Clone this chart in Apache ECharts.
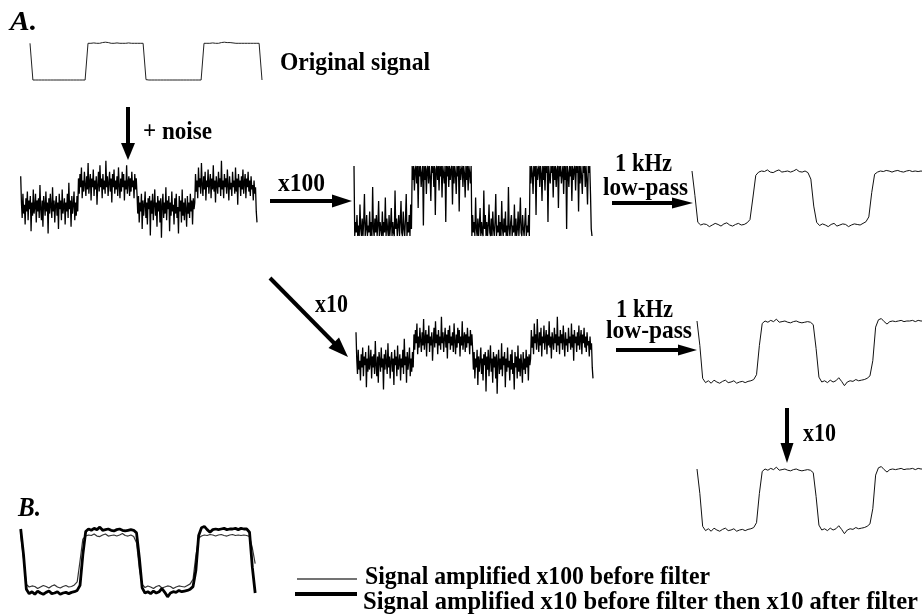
<!DOCTYPE html>
<html><head><meta charset="utf-8">
<script src="https://cdn.jsdelivr.net/npm/echarts@6/dist/echarts.min.js"></script>
<style>html,body{margin:0;padding:0;background:#fff}#c{width:923px;height:614px}</style>
</head><body><div id="c"></div>
<script>
// ---- data (normalised: low level = 0, high level = 1) ----
const originalSignal = [1.0,
 0,0,0,0,0,0,0,0,0,0,0,0,0,0,0,0,0,0,0,
 1.0,1.0,1.01,1.0,1.0,1.02,1.03,1.02,1.0,1.0,1.01,1.0,1.0,1.0,1.01,1.0,1.0,1.0,1.0,1.0,
 0.01,0,0,0,0,0,0,0,0,0,0,0,0,0,0,0,0,0,0,0,
 1.0,1.0,1.0,1.01,1.0,1.0,1.02,1.03,1.02,1.02,1.01,1.0,1.0,1.0,1.0,1.0,1.0,1.0,1.0,1.0,
 0.0];

// original + noise (also shown after x10 gain, same display scale)
const noisySignal = [
 1.4,0.2,-0.5,0.6,-0.3,0.1,-0.8,0.4,-0.2,0.7,
 -0.6,0.3,-0.1,0.5,-1.1,0.2,-0.4,0.8,-0.3,0.0,
 0.6,-0.7,0.3,-0.2,0.4,-0.5,1.0,-0.1,-0.6,0.3,
 -0.9,0.5,0.1,-0.4,0.7,-0.2,0.2,-1.2,0.4,-0.3,
 0.6,0.0,-0.5,0.9,-0.2,0.3,-0.7,0.1,0.5,-0.4,
 0.2,-1.0,0.6,-0.1,0.3,-0.6,0.8,-0.3,0.0,0.4,
 -0.8,0.2,-0.2,0.6,-0.5,1.1,-0.1,0.3,-0.9,0.5,
 -0.3,0.1,0.7,-0.6,0.2,-0.4,0.5,-0.2,
 1.3,0.6,1.5,0.9,1.8,0.4,1.2,0.7,1.6,1.0,
 0.5,1.4,0.8,2.0,0.6,1.1,1.5,0.3,1.3,0.9,
 1.7,0.5,1.2,0.8,1.4,0.1,1.0,1.6,0.7,1.9,
 0.9,1.3,0.4,1.5,0.8,1.2,0.6,2.1,0.9,1.4,
 0.5,1.1,1.6,0.7,1.3,0.2,1.5,0.9,1.7,0.6,
 1.2,0.8,1.4,0.5,1.8,1.0,0.4,1.3,0.7,1.6,
 0.9,1.5,0.3,1.2,0.8,1.9,0.6,1.1,1.4,0.5,
 1.3,0.7,1.6,0.9,1.2,0.4,1.5,0.8,1.3,0.6,
 -0.3,0.5,-0.7,0.2,-0.2,0.6,-1.0,0.3,-0.4,0.1,
 0.7,-0.5,0.2,-0.8,0.4,-0.1,0.5,-1.3,0.3,-0.3,
 0.6,-0.6,0.1,0.8,-0.4,0.2,-0.9,0.5,-0.2,0.3,
 -0.7,0.4,-1.4,0.1,0.6,-0.5,0.2,-0.3,0.9,-0.6,
 0.3,-0.1,0.5,-1.1,0.2,-0.4,0.7,-0.2,0.1,-0.8,
 0.4,-0.3,0.6,-0.5,0.0,-1.2,0.5,-0.2,0.3,-0.7,
 0.8,-0.4,0.2,-0.6,0.4,-0.1,-0.9,0.5,-0.3,0.2,
 -0.5,0.6,-0.2,0.3,-0.8,0.4,-0.1,0.2,
 1.5,0.7,1.2,0.4,1.8,0.9,1.3,0.6,2.0,1.0,
 0.5,1.4,0.8,1.6,0.3,1.2,0.9,1.7,0.6,1.1,
 1.5,0.4,1.3,0.8,1.9,0.7,1.2,0.2,1.4,1.0,
 0.6,1.6,0.9,1.3,0.5,2.1,0.8,1.2,0.4,1.5,
 0.9,1.3,0.6,1.7,1.0,0.3,1.4,0.8,1.1,0.5,
 1.6,0.9,1.2,0.6,1.8,0.7,1.3,0.1,1.5,0.9,
 1.2,0.5,1.4,0.8,1.7,0.6,1.1,1.5,0.4,1.3,
 0.9,1.6,0.7,1.2,0.5,1.4,0.8,1.0,0.3,1.2,
 0.6,0.9,-0.2,-0.7];

// x100 amplified: saturated between bottom (0) and top (1)
const amplified100 = [
 1.0,0.0,0.2,0.05,0.3,0.0,0.15,0.0,0.45,0.1,
 0.0,0.25,0.0,0.2,0.6,0.0,0.1,0.3,0.0,0.15,
 0.05,0.35,0.0,0.2,0.0,0.7,0.1,0.0,0.25,0.05,
 0.3,0.0,0.15,0.5,0.0,0.2,0.1,0.0,0.35,0.0,
 0.2,0.05,0.55,0.0,0.25,0.1,0.0,0.3,0.0,0.15,
 0.4,0.0,0.2,0.05,0.0,0.65,0.1,0.25,0.0,0.15,
 0.3,0.0,0.2,0.5,0.05,0.0,0.35,0.1,0.0,0.25,
 0.6,0.0,0.2,0.05,0.3,0.0,0.45,0.1,
 1.0,0.8,1.0,0.65,0.95,1.0,0.75,1.0,0.4,1.0,
 0.85,1.0,0.7,0.9,1.0,0.15,1.0,0.8,1.0,0.6,
 0.95,1.0,0.75,1.0,0.85,0.5,1.0,0.9,1.0,0.7,
 1.0,0.3,0.95,1.0,0.8,1.0,0.65,1.0,0.85,1.0,
 0.55,1.0,0.9,0.75,1.0,0.2,1.0,0.85,1.0,0.7,
 1.0,0.8,0.95,1.0,0.45,1.0,0.75,1.0,0.9,0.6,
 1.0,0.85,1.0,0.35,1.0,0.8,0.95,1.0,0.7,1.0,
 0.9,0.55,1.0,0.8,1.0,0.65,1.0,0.9,0.75,1.0,
 0.0,0.3,0.05,0.2,0.0,0.55,0.1,0.0,0.25,0.0,
 0.15,0.4,0.0,0.2,0.05,0.0,0.65,0.1,0.3,0.0,
 0.2,0.0,0.15,0.45,0.05,0.0,0.25,0.0,0.35,0.1,
 0.0,0.2,0.6,0.0,0.15,0.05,0.3,0.0,0.2,0.0,
 0.5,0.1,0.0,0.25,0.05,0.35,0.0,0.15,0.0,0.7,
 0.1,0.0,0.2,0.3,0.0,0.15,0.05,0.45,0.0,0.25,
 0.0,0.1,0.35,0.0,0.2,0.55,0.05,0.0,0.3,0.1,
 0.0,0.2,0.4,0.0,0.15,0.05,0.3,0.0,
 1.0,0.75,1.0,0.9,0.6,1.0,0.85,1.0,0.3,1.0,
 0.8,0.95,1.0,0.7,1.0,0.9,0.5,1.0,0.8,1.0,
 0.65,1.0,0.9,1.0,0.2,1.0,0.85,0.75,1.0,0.9,
 1.0,0.55,1.0,0.8,1.0,0.7,0.95,1.0,0.4,1.0,
 0.85,1.0,0.75,0.9,1.0,0.6,1.0,0.8,1.0,0.1,
 1.0,0.9,0.7,1.0,0.85,1.0,0.5,1.0,0.8,0.95,
 1.0,0.65,1.0,0.9,1.0,0.35,1.0,0.75,1.0,0.85,
 0.6,1.0,0.9,1.0,0.7,1.0,0.8,0.45,1.0,0.9,
 1.0,0.6,0.1,0.0];

// x100 then 1 kHz low-pass
const filteredX100 = [
 1.00,0.55,0.05,0.00,0.02,0.01,-0.03,0.00,0.03,0.01,
 -0.02,0.02,0.04,0.00,-0.02,0.01,0.03,0.00,0.01,0.04,
 0.10,0.50,0.92,0.98,1.00,0.99,1.02,0.98,0.97,1.00,
 1.02,0.98,0.99,1.00,0.98,1.00,1.03,0.99,0.98,1.00,
 0.97,0.85,0.35,0.05,-0.01,0.02,0.00,-0.03,0.01,0.03,
 -0.02,0.00,0.02,0.01,-0.03,0.00,0.02,0.01,0.00,0.03,
 0.06,0.15,0.60,0.94,0.98,1.00,0.99,1.01,1.00,0.98,
 1.00,1.01,0.99,0.98,1.00,1.01,0.99,1.00,0.99,1.00,
 0.99,0.97,0.75,0.45];

// x10 then 1 kHz low-pass (then x10)
const filteredX10 = [
 1.00,0.60,0.06,-0.01,0.02,-0.02,0.03,0.00,-0.02,0.01,
 0.03,-0.01,0.00,0.02,-0.02,0.00,0.01,-0.01,0.01,0.02,
 0.04,0.12,0.60,0.96,1.00,0.98,1.01,0.99,1.03,0.98,
 0.99,1.00,0.98,0.97,0.99,1.00,0.98,0.97,0.98,0.99,
 0.98,0.94,0.55,0.08,0.00,0.02,-0.01,0.03,0.00,0.02,
 0.07,0.01,-0.06,0.00,0.02,0.01,0.04,0.02,0.03,0.04,
 0.06,0.10,0.35,0.90,1.02,1.04,0.99,0.95,0.99,1.00,
 0.99,1.00,1.01,0.99,1.00,1.00,1.01,0.99,1.01,1.00,
 1.00,0.95,0.40,0.00];

const labels = {
  a: 'A.', b: 'B.', original: 'Original signal', noise: '+ noise',
  x100: 'x100', x10: 'x10', khz: '1 kHz', lowpass: 'low-pass',
  leg1: 'Signal amplified x100 before filter',
  leg2: 'Signal amplified x10 before filter then x10 after filter'
};

// ---- layout ----
const grids = [], xAxes = [], yAxes = [], series = [];
function panel(left, width, y0, y1, ymin, ymax, xmax) {
  const u = y0 - y1;
  const gi = grids.length;
  grids.push({left: left, top: y0 - ymax * u, width: width, height: (ymax - ymin) * u, outerBoundsMode: 'none', containLabel: false});
  xAxes.push({type: 'value', gridIndex: gi, min: 0, max: xmax, show: false});
  yAxes.push({type: 'value', gridIndex: gi, min: ymin, max: ymax, show: false});
  return {g: gi, y: yAxes.length - 1};
}
function line(p, yi, arr, width, color) {
  series.push({type: 'line', xAxisIndex: p.g, yAxisIndex: yi, data: arr.map((v, i) => [i, v]),
    showSymbol: false, symbol: 'none', silent: true, animation: false, clip: true,
    lineStyle: {color: color, width: width}});
}

const nN = noisySignal.length - 1;
const pOrig = panel(30, 232, 80, 43.3, -0.1, 1.1, 80);
line(pOrig, pOrig.y, originalSignal, 1, '#222');
const pNoise1 = panel(20.7, 236.3, 207, 185, -1.5, 2.2, nN);
line(pNoise1, pNoise1.y, noisySignal, 1.3, '#000');
const pAmp = panel(354, 238, 236, 166, -0.05, 1.05, amplified100.length - 1);
line(pAmp, pAmp.y, amplified100, 1.3, '#000');
const pF1 = panel(692, 229, 225, 171, -0.2, 1.2, 79);
line(pF1, pF1.y, filteredX100, 1, '#111');
const pNoise2 = panel(356, 237, 363, 341, -1.5, 2.2, nN);
line(pNoise2, pNoise2.y, noisySignal, 1.3, '#000');
const pF2 = panel(697, 224, 382, 321, -0.2, 1.2, 79);
line(pF2, pF2.y, filteredX10, 1, '#111');
const pF3 = panel(697, 224, 530, 469, -0.2, 1.2, 79);
line(pF3, pF3.y, filteredX10, 1, '#111');
// B: overlay
const pB = panel(20.7, 237.3, 593, 529, -0.2, 1.2, 84);
const gB = grids[pB.g];
const thinU = 587 - 535;
yAxes.push({type: 'value', gridIndex: pB.g, show: false,
  min: -((gB.top + gB.height) - 587) / thinU, max: (587 - gB.top) / thinU});
const thinY = yAxes.length - 1;
line(pB, thinY, filteredX100, 1.2, '#333');
line(pB, pB.y, filteredX10, 2.8, '#000');

// ---- annotations ----
const cv = document.createElement('canvas').getContext('2d');
const F = '"Liberation Serif", "Times New Roman", serif';
function txt(s, x, y, w, font) {
  cv.font = font;
  const m = cv.measureText(s).width;
  return {type: 'text', x: x, y: y, scaleX: w / m, silent: true, z: 10,
    style: {text: s, x: 0, y: 0, font: font, fill: '#000', textAlign: 'left', textVerticalAlign: 'middle'}};
}
const B23 = 'bold 26px ' + F;
const g = [];
g.push(txt(labels.a, 10, 23, 27, 'italic bold 27px ' + F));
g.push(txt(labels.original, 280, 63, 150, B23));
g.push(txt(labels.noise, 143, 132, 69, B23));
g.push(txt(labels.x100, 278, 184, 47, B23));
g.push(txt(labels.khz, 615, 164, 57, B23));
g.push(txt(labels.lowpass, 603, 188, 85, B23));
g.push(txt(labels.x10, 315, 305, 33, B23));
g.push(txt(labels.khz, 616, 310, 57, B23));
g.push(txt(labels.lowpass, 606, 331, 86, B23));
g.push(txt(labels.x10, 803, 434, 33, B23));
g.push(txt(labels.b, 18, 509, 23, 'italic bold 27px ' + F));
g.push(txt(labels.leg1, 365, 577, 345, B23));
g.push(txt(labels.leg2, 363, 602, 555, B23));

function seg(x1, y1, x2, y2, w, c) {
  return {type: 'line', silent: true, z: 10, shape: {x1: x1, y1: y1, x2: x2, y2: y2}, style: {stroke: c || '#000', lineWidth: w}};
}
function head(pts) {
  return {type: 'polygon', silent: true, z: 10, shape: {points: pts}, style: {fill: '#000'}};
}
// + noise arrow
g.push(seg(128, 107, 128, 146, 4)); g.push(head([[121, 143], [135, 143], [128, 160]]));
// x100 arrow
g.push(seg(270, 201, 336, 201, 4)); g.push(head([[332, 194.5], [332, 207.5], [352, 201]]));
// low-pass arrow 1
g.push(seg(612, 203, 676, 203, 4)); g.push(head([[672, 197.5], [672, 208.5], [693, 203]]));
// x10 diagonal arrow
g.push(seg(270, 278, 337, 346, 4)); g.push(head([[328.5, 348], [339, 337.5], [348, 357]]));
// low-pass arrow 2
g.push(seg(616, 350, 682, 350, 4)); g.push(head([[678, 344.5], [678, 355.5], [697, 350]]));
// x10 down arrow
g.push(seg(787, 408, 787, 447, 4)); g.push(head([[780.5, 443], [793.5, 443], [787, 463]]));
// legend keys
g.push(seg(297, 579, 357, 579, 1.3, '#444'));
g.push(seg(295, 594, 357, 594, 4, '#000'));

const chart = echarts.init(document.getElementById('c'), null, {renderer: 'canvas'});
chart.setOption({
  backgroundColor: '#fff', animation: false,
  grid: grids, xAxis: xAxes, yAxis: yAxes, series: series, graphic: g
});
</script></body></html>
